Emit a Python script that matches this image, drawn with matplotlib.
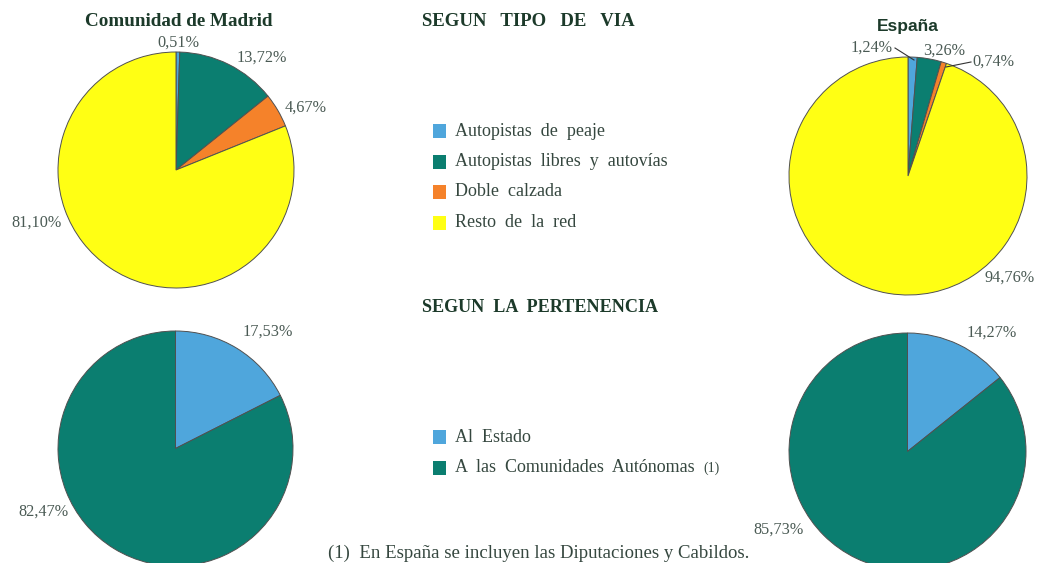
import numpy as np
import matplotlib.pyplot as plt
from matplotlib.patches import Rectangle

# datos
tipo_via = ['Autopistas de peaje', 'Autopistas libres y autovías', 'Doble calzada', 'Resto de la red']
madrid_via = [0.51, 13.72, 4.67, 81.10]
espana_via = [1.24, 3.26, 0.74, 94.76]

pertenencia = ['Al Estado', 'A las Comunidades Autónomas']
madrid_pert = [17.53, 82.47]
espana_pert = [14.27, 85.73]

colores_via = ['#4fa6dc', '#0b7e70', '#f5822a', '#ffff14']
colores_pert = ['#4fa6dc', '#0b7e70']

W, H = 1038, 563
txt = '#35473f'
lab = '#4a5a54'
tit = '#1c3a2a'
plt.rcParams['font.family'] = ['Liberation Serif', 'DejaVu Serif']

def fy(y):
    return H - y

def fmt(v):
    return ('%.2f%%' % v).replace('.', ',')

fig = plt.figure(figsize=(W/100, H/100), dpi=100)
ax = fig.add_axes([0, 0, 1, 1])
ax.set_xlim(0, W)
ax.set_ylim(0, H)
ax.set_autoscale_on(False)

def tarta(vals, cols, cx, cy, r):
    ax.pie(vals, colors=cols, startangle=90, counterclock=False,
           center=(cx, fy(cy)), radius=r, frame=True,
           wedgeprops=dict(edgecolor='#505050', linewidth=0.7))

tarta(madrid_via, colores_via, 176, 170, 118)
tarta(espana_via, colores_via, 908, 176, 119)
tarta(madrid_pert, colores_pert, 175.5, 448.5, 117.5)
tarta(espana_pert, colores_pert, 907.5, 451.5, 118.5)

ax.set_xlim(0, W)
ax.set_ylim(0, H)
ax.axis('off')

# etiquetas de porcentaje
pos_madrid_via = [(178, 43), (262, 58), (306, 108), (36, 223)]
pos_espana_via = [(872, 48), (944, 51), (993, 62), (1010, 278)]
pos_madrid_pert = [(268, 332), (43, 512)]
pos_espana_pert = [(992, 333), (779, 530)]
for vals, pos in [(madrid_via, pos_madrid_via), (espana_via, pos_espana_via),
                  (madrid_pert, pos_madrid_pert), (espana_pert, pos_espana_pert)]:
    for v, (x, y) in zip(vals, pos):
        ax.text(x, fy(y), fmt(v), ha='center', va='center', fontsize=11.7, color=lab)

# lineas guia Espana
ax.plot([895, 914], [fy(48), fy(60)], color='#333333', lw=0.8)
ax.plot([971, 946], [fy(62), fy(67)], color='#333333', lw=0.8)

# titulos
ax.text(85, fy(21), 'Comunidad de Madrid', ha='left', va='center', fontsize=13.8,
        fontweight='bold', color=tit)
ax.text(908, fy(27), 'España', ha='center', va='center', fontsize=12.5,
        fontweight='bold', color=tit, family=['Liberation Sans', 'DejaVu Sans'])
ax.text(422, fy(22), 'SEGUN   TIPO   DE   VIA', ha='left', va='center', fontsize=13.5,
        fontweight='bold', color=tit)
ax.text(422, fy(308), 'SEGUN  LA  PERTENENCIA', ha='left', va='center', fontsize=13.1,
        fontweight='bold', color=tit)

# leyendas
def leyenda(nombres, cols, y0, dy):
    for i, (n, c) in enumerate(zip(nombres, cols)):
        y = y0 + i*dy
        ax.add_patch(Rectangle((433, fy(y) - 7), 13, 14, facecolor=c, edgecolor='none'))
        ax.text(455, fy(y), n.replace(' ', '  '), ha='left', va='center', fontsize=13, color=txt)

leyenda(tipo_via, colores_via, 131, 30.5)
leyenda(pertenencia, colores_pert, 437, 30.5)
ax.text(703, fy(468), '(1)', ha='left', va='center', fontsize=10, color=txt)

ax.text(328, fy(553), '(1)  En España se incluyen las Diputaciones y Cabildos.',
        ha='left', va='center', fontsize=13.5, color=txt)

fig.savefig('out.png', dpi=100)
